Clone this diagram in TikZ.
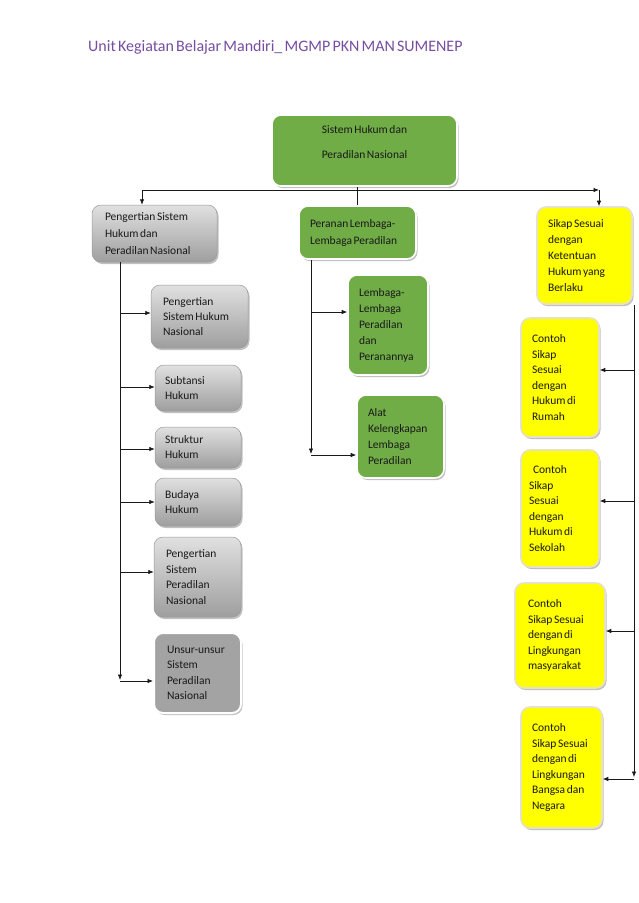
\documentclass[tikz,border=0pt]{standalone}
\usepackage{fontspec}
\setmainfont{Carlito}[WordSpace=0.6]
\usetikzlibrary{shadows,arrows.meta}
\definecolor{ttl}{RGB}{118,77,160}
\definecolor{grn}{RGB}{112,173,71}
\definecolor{ylw}{RGB}{255,255,0}
\definecolor{tanb}{RGB}{232,226,196}
\begin{document}
\begin{tikzpicture}[x=1pt,y=-1pt,
  base/.style={rounded corners=9pt, font=\fontsize{11.5}{15.5}\selectfont, align=flush left, inner ysep=0pt, text=black!90,
    drop shadow={shadow xshift=1.5pt,shadow yshift=-2pt,fill=black!45,opacity=0.55}},
  graybx/.style={base, draw=black!40, line width=0.5pt, top color=black!12, bottom color=black!38},
  darkbx/.style={base, draw=white, line width=2pt, fill=black!36},
  grnbx/.style={base, draw=white, line width=1.6pt, fill=grn},
  ylwbx/.style={base, draw=tanb, line width=1.6pt, fill=ylw},
  arr/.style={-{Latex[length=5.5pt,width=4.5pt]}, line width=0.7pt, draw=black!90},
  ln/.style={line width=0.7pt, draw=black!90}]
\useasboundingbox (0,0) rectangle (638,903);
\node[anchor=base west, text=ttl, font=\fontsize{16}{18}\selectfont, inner sep=0pt] (title) at (88,51) {Unit Kegiatan Belajar Mandiri\_ MGMP PKN MAN SUMENEP};
% top
\node[grnbx, align=flush center, font=\fontsize{11.5}{25}\selectfont, minimum width=185pt, minimum height=71pt, text width=160pt, text depth=42pt] (top) at (364.5,150.5) {Sistem Hukum dan\\Peradilan Nasional};
% level 1
\node[graybx, font=\fontsize{11.5}{17}\selectfont, minimum width=125pt, minimum height=57pt, inner xsep=13pt, text width=99pt] (lbox) at (154.5,233.5) {Pengertian Sistem\\Hukum dan\\Peradilan Nasional};
\node[grnbx, font=\fontsize{11.5}{17}\selectfont, minimum width=117pt, minimum height=53pt, inner xsep=11pt, text width=95pt] (per) at (357.5,232.5) {Peranan Lembaga-\\Lembaga Peradilan};
\node[ylwbx, font=\fontsize{11.5}{16}\selectfont, minimum width=95pt, minimum height=97pt, inner xsep=11pt, text width=73pt] (ytop) at (584.5,255.5) {Sikap Sesuai\\dengan\\Ketentuan\\Hukum yang\\Berlaku};
% left column
\node[graybx, font=\fontsize{11.5}{15}\selectfont, minimum width=97pt, minimum height=63pt, inner xsep=12pt, text width=73pt] (pshn) at (199.5,316.5) {Pengertian\\Sistem Hukum\\Nasional};
\node[graybx, font=\fontsize{11.5}{15}\selectfont, minimum width=86pt, minimum height=46pt, inner xsep=10pt, text width=66pt] (sub) at (198,388) {Subtansi\\Hukum};
\node[graybx, font=\fontsize{11.5}{15}\selectfont, minimum width=86pt, minimum height=41pt, inner xsep=10pt, text width=66pt] (str) at (198,447.5) {Struktur\\Hukum};
\node[graybx, font=\fontsize{11.5}{15}\selectfont, minimum width=86pt, minimum height=48pt, inner xsep=10pt, text width=66pt] (bud) at (198,502) {Budaya\\Hukum};
\node[graybx, minimum width=87pt, minimum height=80pt, inner xsep=12pt, text width=63pt] (pspn) at (197.5,577) {Pengertian\\Sistem\\Peradilan\\Nasional};
\node[darkbx, minimum width=87pt, minimum height=80pt, inner xsep=13pt, text width=61pt] (unsur) at (197.5,673) {Unsur-unsur\\Sistem\\Peradilan\\Nasional};
% middle column
\node[grnbx, font=\fontsize{11.5}{16}\selectfont, minimum width=80pt, minimum height=100pt, inner xsep=11pt, text width=58pt] (lem) at (388,325) {Lembaga-\\Lembaga\\Peradilan\\dan\\Peranannya};
\node[grnbx, font=\fontsize{11.5}{16}\selectfont, minimum width=87pt, minimum height=83pt, inner xsep=11pt, text width=65pt] (alat) at (400.5,436.5) {Alat\\Kelengkapan\\Lembaga\\Peradilan};
% right column
\node[ylwbx, minimum width=78pt, minimum height=119pt, inner xsep=11pt, text width=56pt] (rumah) at (560,377.5) {Contoh\\Sikap\\Sesuai\\dengan\\Hukum di\\Rumah};
\node[ylwbx, minimum width=78pt, minimum height=117pt, inner xsep=8pt, text width=62pt] (sekolah) at (560,508.5) {\hspace*{4pt}Contoh\\Sikap\\Sesuai\\dengan\\Hukum di\\Sekolah};
\node[ylwbx, minimum width=90pt, minimum height=105pt, inner xsep=13pt, text width=64pt] (masy) at (560,635.5) {Contoh\\Sikap Sesuai\\dengan di\\Lingkungan\\masyarakat};
\node[ylwbx, minimum width=81pt, minimum height=121pt, inner xsep=11pt, text width=59pt] (bangsa) at (561.5,767.5) {Contoh\\Sikap Sesuai\\dengan di\\Lingkungan\\Bangsa dan\\Negara};
% connectors top
\coordinate (hl) at (142,190);
\coordinate (hr) at (599,190);
\draw[ln] (per.north |- top.south) -- (per.north);
\draw[arr] (hl) -- (hr);
\draw[arr] (hl) -- (hl |- lbox.north);
\draw[arr] (hr) -- (hr |- ytop.north);
% left trunk
\coordinate (lvx) at (120,0);
\coordinate (lvb) at (120,680);
\draw[arr] (lvx |- lbox.south) -- (lvb);
\coordinate (l1) at (120,313);
\coordinate (l2) at (120,387);
\coordinate (l3) at (120,449);
\coordinate (l4) at (120,502);
\coordinate (l5) at (120,572);
\coordinate (l6) at (120,681);
\draw[arr] (l1) -- (l1 -| pshn.west);
\draw[arr] (l2) -- (l2 -| sub.west);
\draw[arr] (l3) -- (l3 -| str.west);
\draw[arr] (l4) -- (l4 -| bud.west);
\draw[arr] (l5) -- (l5 -| pspn.west);
\draw[arr] (l6) -- (l6 -| unsur.west);
% middle trunk
\coordinate (mvx) at (311,0);
\coordinate (mvb) at (311,454);
\draw[arr] (mvx |- per.south) -- (mvb);
\coordinate (m1) at (311,312);
\coordinate (m2) at (311,455);
\draw[arr] (m1) -- (m1 -| lem.west);
\draw[arr] (m2) -- (m2 -| alat.west);
% right trunk
\coordinate (rvx) at (634,0);
\coordinate (rvb) at (634,777);
\draw[arr] (rvx |- ytop.south) -- (rvb);
\coordinate (r1) at (634,370);
\coordinate (r2) at (634,501);
\coordinate (r3) at (634,631);
\coordinate (r4) at (634,779);
\draw[arr] (r1) -- (r1 -| rumah.east);
\draw[arr] (r2) -- (r2 -| sekolah.east);
\draw[arr] (r3) -- (r3 -| masy.east);
\draw[arr] (r4) -- (r4 -| bangsa.east);
\end{tikzpicture}
\end{document}
